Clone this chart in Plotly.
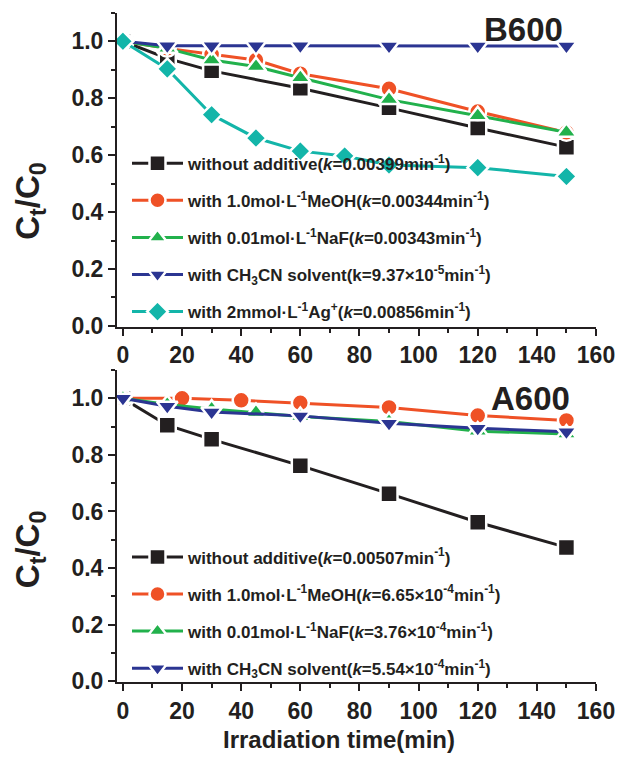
import plotly.graph_objects as go

# ---------------- data: B600 (top panel) ----------------
b_t_black = [0, 15, 30, 60, 90, 120, 150]
b_black = [1.0, 0.940, 0.896, 0.835, 0.766, 0.695, 0.628]
b_t_meoh = [0, 15, 30, 45, 60, 90, 120, 150]
b_meoh = [1.0, 0.975, 0.954, 0.934, 0.886, 0.833, 0.753, 0.680]
b_t_naf = [0, 15, 30, 45, 60, 90, 120, 150]
b_naf = [1.0, 0.975, 0.934, 0.911, 0.872, 0.795, 0.738, 0.680]
b_t_ch3cn = [0, 15, 30, 45, 60, 90, 120, 150]
b_ch3cn = [1.0, 0.984, 0.984, 0.984, 0.984, 0.983, 0.983, 0.983]
b_t_ag = [0, 15, 30, 45, 60, 75, 90, 120, 150]
b_ag = [1.0, 0.903, 0.742, 0.660, 0.614, 0.597, 0.565, 0.556, 0.525]

b_names = [
    "without additive(<i>k</i>=0.00399min<sup>-1</sup>)",
    "with 1.0mol·L<sup>-1</sup>MeOH(<i>k</i>=0.00344min<sup>-1</sup>)",
    "with 0.01mol·L<sup>-1</sup>NaF(<i>k</i>=0.00343min<sup>-1</sup>)",
    "with CH<sub>3</sub>CN solvent(k=9.37×10<sup>-5</sup>min<sup>-1</sup>)",
    "with 2mmol·L<sup>-1</sup>Ag<sup>+</sup>(<i>k</i>=0.00856min<sup>-1</sup>)",
]

# ---------------- data: A600 (bottom panel) ----------------
a_t_black = [0, 15, 30, 60, 90, 120, 150]
a_black = [1.0, 0.905, 0.855, 0.762, 0.663, 0.562, 0.473]
a_t_meoh = [0, 20, 40, 60, 90, 120, 150]
a_meoh = [1.0, 1.0, 0.993, 0.984, 0.968, 0.939, 0.922]
a_t_naf = [0, 15, 30, 45, 60, 90, 120, 150]
a_naf = [1.0, 0.978, 0.962, 0.950, 0.936, 0.918, 0.884, 0.874]
a_t_ch3cn = [0, 15, 30, 60, 90, 120, 150]
a_ch3cn = [1.0, 0.972, 0.952, 0.938, 0.912, 0.894, 0.882]

a_names = [
    "without additive(<i>k</i>=0.00507min<sup>-1</sup>)",
    "with 1.0mol·L<sup>-1</sup>MeOH(<i>k</i>=6.65×10<sup>-4</sup>min<sup>-1</sup>)",
    "with 0.01mol·L<sup>-1</sup>NaF(<i>k</i>=3.76×10<sup>-4</sup>min<sup>-1</sup>)",
    "with CH<sub>3</sub>CN solvent(<i>k</i>=5.54×10<sup>-4</sup>min<sup>-1</sup>)",
]

x_ticks = [0, 20, 40, 60, 80, 100, 120, 140, 160]
y_ticks = [0.0, 0.2, 0.4, 0.6, 0.8, 1.0]

BLACK = "#231f20"
RED = "#ef5126"
GREEN = "#22b14c"
BLUE = "#2b3592"
CYAN = "#13b5a9"

styles = [
    (BLACK, "square", 17),
    (RED, "circle", 17),
    (GREEN, "triangle-up", 18),
    (BLUE, "triangle-down", 18),
    (CYAN, "diamond", 16),
]

FONT = "Liberation Sans, Arial, sans-serif"

fig = go.Figure()

def add(x, y, name, style, xa, ya, leg):
    color, symbol, size = style
    fig.add_trace(go.Scatter(
        x=x, y=y, name=name, mode="lines+markers",
        line=dict(color=color, width=3),
        marker=dict(symbol=symbol, size=size, color=color,
                    line=dict(color="white", width=2.5)),
        xaxis=xa, yaxis=ya, legend=leg, legendgroup=leg + str(len(fig.data)),
    ))

b_series = [(b_t_black, b_black), (b_t_meoh, b_meoh), (b_t_naf, b_naf),
            (b_t_ch3cn, b_ch3cn), (b_t_ag, b_ag)]
for (x, y), nm, st in zip(b_series, b_names, styles):
    add(x, y, nm, st, "x", "y", "legend")

a_series = [(a_t_black, a_black), (a_t_meoh, a_meoh), (a_t_naf, a_naf),
            (a_t_ch3cn, a_ch3cn)]
for (x, y), nm, st in zip(a_series, a_names, styles):
    add(x, y, nm, st, "x2", "y2", "legend2")

H = 759.0
L, R = 117.0, 596.0
def py(p):
    return 1 - p / H
def px(p):
    return (p - L) / (R - L)

axis_common = dict(
    showline=True, linecolor=BLACK, linewidth=2, mirror=False,
    ticks="outside", ticklen=7, tickwidth=2, tickcolor=BLACK,
    showgrid=False, zeroline=False,
    tickfont=dict(family=FONT, size=23, color=BLACK, weight="bold"),
)

xaxis = dict(axis_common, range=[-2, 160], tickvals=x_ticks,
             minor=dict(ticks="outside", ticklen=4, tickwidth=2, tickcolor=BLACK, dtick=10, tick0=0))
yaxis = dict(axis_common, range=[-0.003, 1.1], tickvals=y_ticks, tickformat=".1f",
             minor=dict(ticks="outside", ticklen=4, tickwidth=2, tickcolor=BLACK, dtick=0.1, tick0=0))

legend_common = dict(x=px(127), xanchor="left", yanchor="top",
                     bgcolor="rgba(0,0,0,0)", tracegroupgap=12, itemwidth=51,
                     font=dict(family=FONT, size=17, color=BLACK, weight="bold"))

fig.update_layout(
    width=617, height=759,
    margin=dict(l=L, r=617 - R, t=0, b=0),
    paper_bgcolor="white", plot_bgcolor="white",
    font=dict(family=FONT, color=BLACK),
    xaxis=dict(xaxis, domain=[0, 1], anchor="y"),
    yaxis=dict(yaxis, domain=[py(332), py(13)], anchor="x"),
    xaxis2=dict(xaxis, domain=[0, 1], anchor="y2"),
    yaxis2=dict(yaxis, domain=[py(693), py(376)], anchor="x2"),
    legend=dict(legend_common, y=py(148)),
    legend2=dict(legend_common, y=py(548)),
    showlegend=True,
)

ann_font = dict(family=FONT, size=33, color=BLACK, weight="bold")
fig.add_annotation(text="B600", x=135.5, y=1.042, xref="x", yref="y",
                   showarrow=False, font=ann_font, xanchor="center", yanchor="middle")
fig.add_annotation(text="A600", x=138, y=0.999, xref="x2", yref="y2",
                   showarrow=False, font=ann_font, xanchor="center", yanchor="middle")
title_font = dict(family=FONT, size=33, color=BLACK, weight="bold")
for yc in (205, 559):
    fig.add_annotation(text="C<sub>t</sub>/C<sub>0</sub>", x=px(30), y=py(yc),
                       xref="paper", yref="paper", textangle=-90, showarrow=False,
                       font=title_font, xanchor="center", yanchor="middle")
fig.add_annotation(text="Irradiation time(min)", x=73, y=py(751), xref="x2", yref="paper",
                   showarrow=False, xanchor="center", yanchor="middle",
                   font=dict(family=FONT, size=24, color=BLACK, weight="bold"))

fig.write_html("out.html")
